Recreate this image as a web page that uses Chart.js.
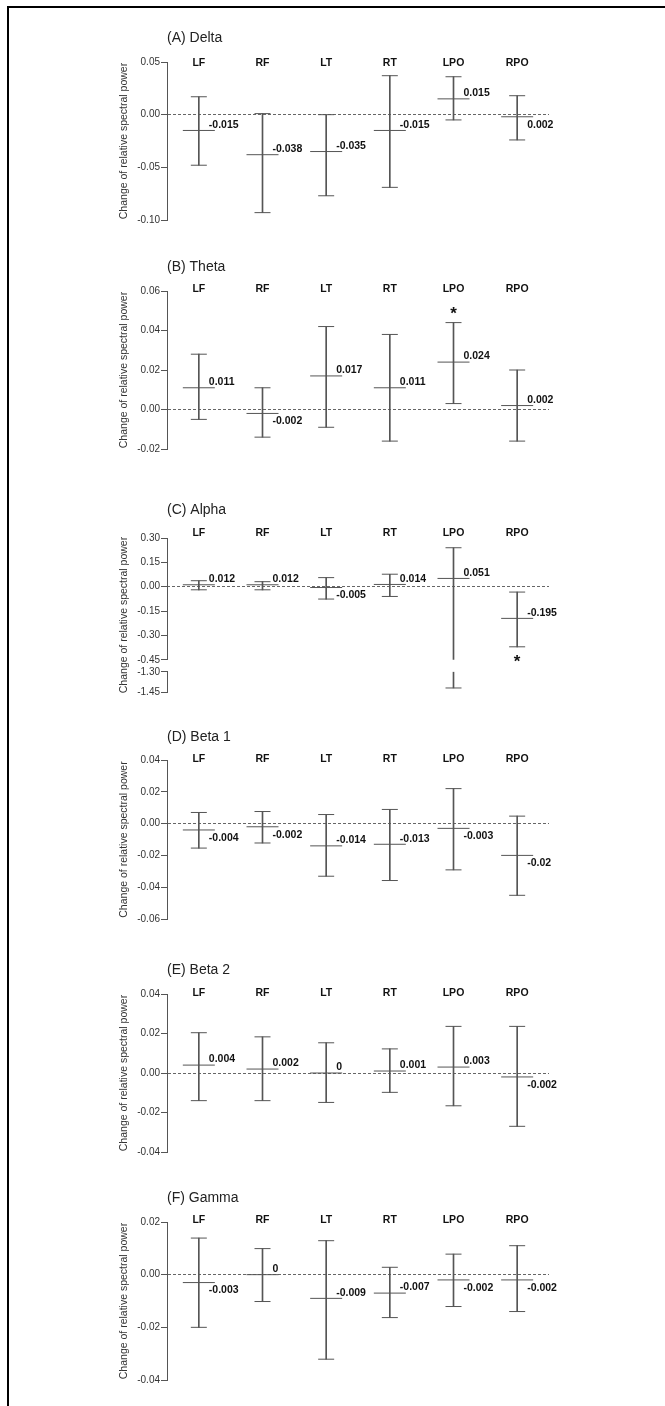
<!DOCTYPE html>
<html>
<head>
<meta charset="utf-8">
<script src="https://cdn.jsdelivr.net/npm/chart.js@4.4.1/dist/chart.umd.min.js"></script>
<style>
html,body{margin:0;padding:0;background:#fff;}
body{width:665px;height:1406px;position:relative;overflow:hidden;}
#frame{position:absolute;left:7px;top:6px;width:700px;height:1500px;border-left:2px solid #000;border-top:2px solid #000;}
canvas{position:absolute;left:0;}
</style>
</head>
<body>
<div id="frame"></div>
<script>
// ---------------- DATA ----------------
const regions = ['LF', 'RF', 'LT', 'RT', 'LPO', 'RPO'];
const yAxisTitle = 'Change of relative spectral power';

// (A) Delta
const deltaTicks = [-0.10, -0.05, 0.00, 0.05];
const deltaMean  = [-0.015, -0.038, -0.035, -0.015, 0.015, -0.002];
const deltaHigh  = [0.017, 0.001, 0.000, 0.037, 0.036, 0.018];
const deltaLow   = [-0.048, -0.093, -0.077, -0.069, -0.005, -0.024];
const deltaText  = ['-0.015', '-0.038', '-0.035', '-0.015', '0.015', '0.002'];

// (B) Theta
const thetaTicks = [-0.02, 0.00, 0.02, 0.04, 0.06];
const thetaMean  = [0.011, -0.002, 0.017, 0.011, 0.024, 0.002];
const thetaHigh  = [0.028, 0.011, 0.042, 0.038, 0.044, 0.020];
const thetaLow   = [-0.005, -0.014, -0.009, -0.016, 0.003, -0.016];
const thetaText  = ['0.011', '-0.002', '0.017', '0.011', '0.024', '0.002'];

// (C) Alpha (broken axis)
const alphaTicksUpper = [-0.45, -0.30, -0.15, 0.00, 0.15, 0.30];
const alphaTicksLower = [-1.45, -1.30];
const alphaMean  = [0.012, 0.012, -0.005, 0.014, 0.051, -0.195];
const alphaHigh  = [0.037, 0.031, 0.056, 0.077, 0.240, -0.033];
const alphaLow   = [-0.019, -0.019, -0.076, -0.060, -1.42, -0.370];
const alphaText  = ['0.012', '0.012', '-0.005', '0.014', '0.051', '-0.195'];

// (D) Beta 1
const beta1Ticks = [-0.06, -0.04, -0.02, 0.00, 0.02, 0.04];
const beta1Mean  = [-0.004, -0.002, -0.014, -0.013, -0.003, -0.020];
const beta1High  = [0.007, 0.0076, 0.0057, 0.0089, 0.022, 0.0047];
const beta1Low   = [-0.0154, -0.0122, -0.0331, -0.0358, -0.0291, -0.0451];
const beta1Text  = ['-0.004', '-0.002', '-0.014', '-0.013', '-0.003', '-0.02'];

// (E) Beta 2
const beta2Ticks = [-0.04, -0.02, 0.00, 0.02, 0.04];
const beta2Mean  = [0.004, 0.002, 0.000, 0.001, 0.003, -0.002];
const beta2High  = [0.0204, 0.0183, 0.0153, 0.0122, 0.0236, 0.0236];
const beta2Low   = [-0.014, -0.014, -0.0149, -0.0098, -0.0166, -0.027];
const beta2Text  = ['0.004', '0.002', '0', '0.001', '0.003', '-0.002'];

// (F) Gamma
const gammaTicks = [-0.04, -0.02, 0.00, 0.02];
const gammaMean  = [-0.003, 0.000, -0.009, -0.007, -0.002, -0.002];
const gammaHigh  = [0.0139, 0.0099, 0.0129, 0.0028, 0.0078, 0.011];
const gammaLow   = [-0.020, -0.0102, -0.0321, -0.0163, -0.0121, -0.014];
const gammaText  = ['-0.003', '0', '-0.009', '-0.007', '-0.002', '-0.002'];

// ---------------- STYLE / LAYOUT ----------------
const FONT = "'Liberation Sans', Arial, Helvetica, sans-serif";
Chart.defaults.font.family = FONT;
Chart.defaults.color = '#333';
const INK = '#555';
const extras = {};

const annotatePlugin = {
  id: 'annotate',
  afterDatasetsDraw(chart) {
    const e = extras[chart.canvas.id];
    if (!e) return;
    const ctx = chart.ctx, xs = chart.scales.x, ys = chart.scales.y;
    ctx.save();
    ctx.font = 'bold 10.5px ' + FONT;
    ctx.fillStyle = '#111';
    ctx.textAlign = 'left';
    ctx.textBaseline = 'middle';
    e.mean.forEach((m, i) => {
      const x = xs.getPixelForValue(i), y = ys.getPixelForValue(m);
      ctx.fillText(e.text[i], x + 10, y + (e.side[i] === 'b' ? 8 : -5.5));
    });
    if (e.star) {
      const s = e.star;
      const x = xs.getPixelForValue(s.index);
      const v = s.side === 'above' ? e.high[s.index] : e.low[s.index];
      const y = ys.getPixelForValue(v) + (s.side === 'above' ? -13 : 11);
      ctx.font = 'bold 17px ' + FONT;
      ctx.textAlign = 'center';
      ctx.textBaseline = 'alphabetic';
      ctx.fillText('*', x, y + 9.7);
    }
    ctx.restore();
  }
};
Chart.register(annotatePlugin);

const fmt = v => (Math.abs(v) < 1e-9 ? 0 : v).toFixed(2);

function valueScale(ticks, extra) {
  return Object.assign({
    type: 'linear', position: 'left',
    min: ticks[0], max: ticks[ticks.length - 1],
    afterBuildTicks: s => { s.ticks = ticks.map(v => ({ value: v })); },
    afterFit: s => { s.width = 35; },
    ticks: { font: { size: 10 }, color: '#333', padding: 1, autoSkip: false, callback: v => fmt(v) },
    grid: {
      drawOnChartArea: true, drawTicks: true, tickLength: 6, lineWidth: 1, tickWidth: 1,
      color: c => (c.tick && Math.abs(c.tick.value) < 1e-9) ? '#666' : 'rgba(0,0,0,0)',
      tickColor: INK
    },
    border: { display: true, color: INK, width: 1, dash: [3, 2] }
  }, extra || {});
}

function makePanel(p) {
  const plotH = p.plotH;
  const canvasH = Math.round(45 + plotH + 18);
  const canvas = document.createElement('canvas');
  canvas.id = p.id;
  canvas.width = 665;
  canvas.height = canvasH;
  canvas.style.top = (p.axisTop - 45) + 'px';
  canvas.style.width = '665px';
  canvas.style.height = canvasH + 'px';
  document.body.appendChild(canvas);

  extras[p.id] = { mean: p.mean, high: p.high, low: p.low, text: p.text, side: p.side, star: p.star };

  const upMin = p.ticks[0];
  const hasBreak = !!p.lowerTicks;
  const lowMax = hasBreak ? p.lowerTicks[p.lowerTicks.length - 1] : null;

  const barStyle = { type: 'bar', backgroundColor: INK, borderWidth: 0, barThickness: 1, grouped: false };
  const capStyle = { type: 'line', showLine: false, pointStyle: 'line', pointRadius: 8, pointHoverRadius: 8,
                     pointBorderWidth: 1, pointBorderColor: INK, pointBackgroundColor: INK, borderColor: INK };
  const meanStyle = Object.assign({}, capStyle, { pointRadius: 16, pointHoverRadius: 16 });

  const datasets = [];
  datasets.push(Object.assign({ label: 'range', yAxisID: 'y',
    data: p.high.map((h, i) => [Math.max(p.low[i], upMin), h]) }, barStyle));
  if (hasBreak) {
    datasets.push(Object.assign({ label: 'range low', yAxisID: 'yL',
      data: p.low.map((l, i) => l < upMin ? [l, Math.min(p.high[i], lowMax)] : null) }, barStyle));
  }
  datasets.push(Object.assign({ label: 'upper', yAxisID: 'y', data: p.high }, capStyle));
  datasets.push(Object.assign({ label: 'lower', yAxisID: 'y', data: p.low.map(l => l >= upMin ? l : null) }, capStyle));
  if (hasBreak) {
    datasets.push(Object.assign({ label: 'lower (break)', yAxisID: 'yL', data: p.low.map(l => l < upMin ? l : null) }, capStyle));
  }
  datasets.push(Object.assign({ label: 'mean', yAxisID: 'y', data: p.mean }, meanStyle));

  const scales = {
    x: {
      type: 'category', labels: regions, position: 'top', offset: true,
      grid: { display: false, drawTicks: false }, border: { display: false },
      ticks: { font: { size: 10.5, weight: 'bold' }, color: '#111', padding: -p.lift - 5, mirror: true,
               maxRotation: 0, minRotation: 0, autoSkip: false },
      afterFit: s => { s.height = 8; }
    },
    yt: {
      type: 'linear', position: 'left', weight: 10, display: true,
      ticks: { display: false }, grid: { display: false, drawTicks: false }, border: { display: false },
      title: { display: true, text: yAxisTitle, font: { size: 10.5 }, color: '#333', padding: 0 },
      afterFit: s => { s.width = 14; }
    }
  };
  if (hasBreak) {
    scales.y = valueScale(p.ticks, { stack: 'brk', stackWeight: p.upperH, weight: 3 });
    scales.yGap = {
      type: 'linear', position: 'left', stack: 'brk', stackWeight: p.gapH, weight: 2, display: true,
      ticks: { display: false }, grid: { display: false, drawTicks: false }, border: { display: false },
      afterFit: s => { s.width = 0; }
    };
    scales.yL = valueScale(p.lowerTicks, { stack: 'brk', stackWeight: p.lowerH, weight: 1 });
  } else {
    scales.y = valueScale(p.ticks);
  }

  const titleBoxPadTop = 36.6 - p.titleOffset;
  const titlePadBottom = 45 - 8 - 16.8 - titleBoxPadTop;

  new Chart(canvas, {
    type: 'bar',
    data: { labels: regions, datasets },
    options: {
      responsive: false, animation: false, devicePixelRatio: 1,
      events: [],
      layout: { padding: { left: 118, right: 116, top: titleBoxPadTop, bottom: 6 } },
      plugins: {
        legend: { display: false },
        tooltip: { enabled: false },
        title: { display: true, text: p.title, align: 'start', fullSize: false, color: '#222',
                 font: { size: 14, weight: 'normal', lineHeight: 1.2 },
                 padding: { top: 0, bottom: titlePadBottom } }
      },
      scales
    }
  });
}

makePanel({ id: 'pA', title: '(A) Delta', axisTop: 62, plotH: 157, titleOffset: 24, lift: 0,
  ticks: deltaTicks, mean: deltaMean, high: deltaHigh, low: deltaLow, text: deltaText,
  side: ['a', 'a', 'a', 'a', 'a', 'b'] });

makePanel({ id: 'pB', title: '(B) Theta', axisTop: 291, plotH: 157, titleOffset: 24, lift: 2.7,
  ticks: thetaTicks, mean: thetaMean, high: thetaHigh, low: thetaLow, text: thetaText,
  side: ['a', 'b', 'a', 'a', 'a', 'a'], star: { index: 4, side: 'above' } });

makePanel({ id: 'pC', title: '(C) Alpha', axisTop: 538, plotH: 153, upperH: 121, gapH: 12, lowerH: 20,
  titleOffset: 27.6, lift: 6.6,
  ticks: alphaTicksUpper, lowerTicks: alphaTicksLower,
  mean: alphaMean, high: alphaHigh, low: alphaLow, text: alphaText,
  side: ['a', 'a', 'b', 'a', 'a', 'a'], star: { index: 5, side: 'below' } });

makePanel({ id: 'pD', title: '(D) Beta 1', axisTop: 760, plotH: 158, titleOffset: 23, lift: 2,
  ticks: beta1Ticks, mean: beta1Mean, high: beta1High, low: beta1Low, text: beta1Text,
  side: ['b', 'b', 'a', 'a', 'b', 'b'] });

makePanel({ id: 'pE', title: '(E) Beta 2', axisTop: 994, plotH: 157, titleOffset: 23.7, lift: 2,
  ticks: beta2Ticks, mean: beta2Mean, high: beta2High, low: beta2Low, text: beta2Text,
  side: ['a', 'a', 'a', 'a', 'a', 'b'] });

makePanel({ id: 'pF', title: '(F) Gamma', axisTop: 1222, plotH: 157, titleOffset: 24, lift: 2.7,
  ticks: gammaTicks, mean: gammaMean, high: gammaHigh, low: gammaLow, text: gammaText,
  side: ['b', 'a', 'a', 'a', 'b', 'b'] });
</script>
</body>
</html>
